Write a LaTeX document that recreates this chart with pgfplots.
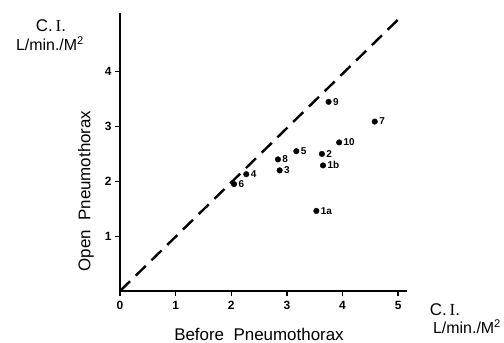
\documentclass[border=0pt]{standalone}
\usepackage{fontspec}
\setmainfont{Liberation Sans}
\newfontfamily\serifI{Liberation Serif}
\usepackage{pgfplots}
\pgfplotsset{compat=1.18}
\begin{document}
\begin{tikzpicture}
\useasboundingbox (-120bp,-52bp) rectangle (384bp,291bp);
\begin{axis}[
  scale only axis,
  width=287bp, height=278bp,
  xmin=0, xmax=5.16, ymin=0, ymax=5.07,
  axis x line*=bottom, axis y line*=left,
  axis line style={-, line width=2.2bp, black},
  xtick={0,1,2,3,4,5}, ytick={1,2,3,4},
  tick align=outside,
  major tick length=5bp,
  tick style={line width=1.3bp, black},
  /pgf/number format/assume math mode=true,
  ticklabel style={font=\fontsize{12}{14}\selectfont\bfseries},
  xticklabel style={yshift=-2bp},
  clip=false,
]
\addplot[black, line width=2.4bp, dash pattern=on 14bp off 8bp] coordinates {(0,0) (5.05,5.0)};
\addplot[only marks, mark=*, mark size=2.8bp, black,
  nodes near coords, point meta=explicit symbolic,
  every node near coord/.style={anchor=west, xshift=1bp, font=\fontsize{10}{12}\selectfont\bfseries}]
  table[meta=label] {
x y label
3.75 3.45 9
4.58 3.09 7
3.94 2.71 10
3.17 2.55 5
3.63 2.50 2
2.84 2.40 8
2.87 2.20 3
3.65 2.29 1b
2.27 2.13 4
2.05 1.95 6
3.53 1.46 1a
};
\end{axis}
\node[font=\fontsize{17}{20}\selectfont] at (-69bp,265bp) {C.\,{\serifI I}.};
\node[font=\fontsize{16}{19}\selectfont] at (-70bp,247bp) {L/min./M\textsuperscript{2}};
\node[font=\fontsize{17}{20}\selectfont] at (325bp,-19bp) {C.\,{\serifI I}.};
\node[font=\fontsize{16}{19}\selectfont] at (347bp,-36bp) {L/min./M\textsuperscript{2}};
\node[font=\fontsize{17}{20}\selectfont] at (139bp,-43bp) {Before\ \ Pneumothorax};
\node[font=\fontsize{17}{20}\selectfont, rotate=90] at (-34bp,100bp) {Open\ \ Pneumothorax};
\end{tikzpicture}
\end{document}
